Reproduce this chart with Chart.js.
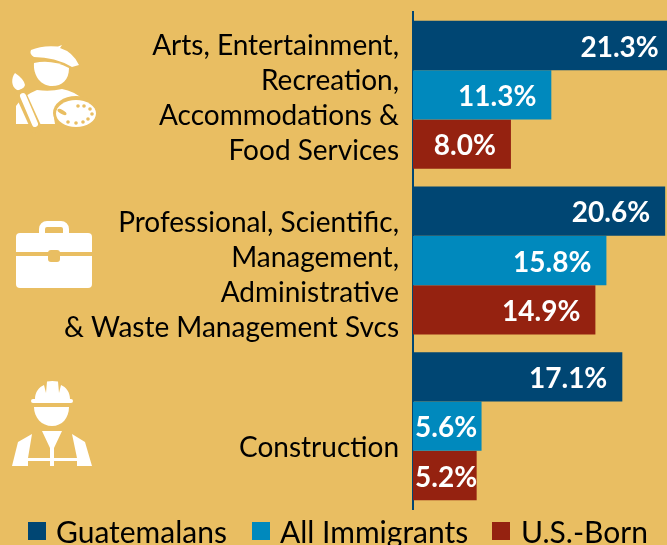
<!DOCTYPE html>
<html><head><meta charset="utf-8">
<style>html,body{margin:0;padding:0;background:#E9BE62;overflow:hidden}canvas{display:block}</style>
<script src="https://cdn.jsdelivr.net/npm/chart.js@4"></script></head>
<body><div style="width:667px;height:545px"><canvas id="c"></canvas></div>
<script>
const categories = [
  ["Arts, Entertainment,", "Recreation,", "Accommodations &", "Food Services"],
  ["Professional, Scientific,", "Management,", "Administrative", "& Waste Management Svcs"],
  ["Construction"]
];
const guatemalans = [21.3, 20.6, 17.1];
const allImmigrants = [11.3, 15.8, 5.6];
const usBorn = [8.0, 14.9, 5.2];
const NAVY = '#004673', BLUE = '#0089BD', RED = '#952210', BG = '#E9BE62';
const labelShift = [4, 15, 22];
const legendBoxX = [28, 252, 492];
const legendTextX = [56, 280, 521];
const FONT = 'Lato, Carlito, sans-serif';

const W = '#fff';
function poly(ctx,pts){ctx.beginPath();pts.forEach((p,i)=>i?ctx.lineTo(p[0],p[1]):ctx.moveTo(p[0],p[1]));ctx.closePath();ctx.fill();}
function paintIcons(ctx){
  ctx.save();
  ctx.fillStyle = W;
  // painter: beret
  ctx.beginPath();
  ctx.moveTo(31,50);ctx.quadraticCurveTo(42,45,58,46.5);ctx.lineTo(62,45);ctx.lineTo(60,48);
  ctx.quadraticCurveTo(73,52,79,65);ctx.lineTo(72,67);ctx.quadraticCurveTo(55,57,34,57);
  ctx.quadraticCurveTo(29,54,31,50);ctx.fill();
  // head
  ctx.beginPath();
  ctx.moveTo(34,63);ctx.quadraticCurveTo(52,59,69,68);ctx.bezierCurveTo(69,80,62,86,52,86);
  ctx.bezierCurveTo(41,86,33,76,34,63);ctx.fill();
  // brush tip
  ctx.beginPath();
  ctx.moveTo(15,73);ctx.bezierCurveTo(11,78,11,87,17,90);ctx.quadraticCurveTo(23,91,25,85);
  ctx.quadraticCurveTo(24,79,15,73);ctx.fill();
  // body
  ctx.beginPath();
  ctx.moveTo(16,124);ctx.lineTo(16,106);ctx.quadraticCurveTo(22,96,37,90);ctx.quadraticCurveTo(50,92,62,89);
  ctx.quadraticCurveTo(74,91,84,100);ctx.lineTo(66,100);ctx.lineTo(54,118);ctx.lineTo(55,124);ctx.closePath();ctx.fill();
  // brush handle over body
  ctx.strokeStyle = BG;ctx.lineWidth = 11;ctx.lineCap='butt';
  ctx.beginPath();ctx.moveTo(19,90);ctx.lineTo(38,132);ctx.stroke();
  ctx.strokeStyle = W;ctx.lineWidth = 6;ctx.lineCap='round';
  ctx.beginPath();ctx.moveTo(23,96);ctx.lineTo(35,124);ctx.stroke();
  // palette
  ctx.fillStyle = BG;ctx.beginPath();ctx.ellipse(76,113,23,17,0,0,Math.PI*2);ctx.fill();
  ctx.fillStyle = W;ctx.beginPath();ctx.ellipse(76,113.5,20,13.5,0,0,Math.PI*2);ctx.fill();
  ctx.fillStyle = BG;
  [[78,106],[84,106],[90,109],[92,114],[88,119],[83,122],[76,123],[68,122]].forEach(p=>{ctx.beginPath();ctx.arc(p[0],p[1],1.8,0,Math.PI*2);ctx.fill();});
  ctx.beginPath();ctx.ellipse(62,112,5,2,0.5,0,Math.PI*2);ctx.fill();
  // briefcase
  ctx.fillStyle = W;
  ctx.beginPath();ctx.roundRect(16,233,76,55,4);ctx.fill();
  ctx.strokeStyle = W;ctx.lineWidth = 6;ctx.lineCap='butt';
  ctx.beginPath();ctx.roundRect(42,224,24,14,5);ctx.stroke();
  ctx.fillStyle = BG;
  ctx.fillRect(16,252,76,4);
  ctx.beginPath();ctx.roundRect(48,250,12,12,3);ctx.fill();
  // worker: helmet
  ctx.fillStyle = W;
  ctx.beginPath();ctx.moveTo(35,399);ctx.bezierCurveTo(35,392,39,387,44,385);ctx.lineTo(46,393);ctx.lineTo(47,381.5);
  ctx.quadraticCurveTo(52,380.5,58,381.5);ctx.lineTo(59,393);ctx.lineTo(61,385);ctx.bezierCurveTo(66,387,70,392,70,399);ctx.closePath();ctx.fill();
  ctx.beginPath();ctx.roundRect(31,399,42,4,2);ctx.fill();
  // face
  ctx.beginPath();ctx.moveTo(34,407);ctx.lineTo(69,407);ctx.bezierCurveTo(69,418,62,426,52,426);ctx.bezierCurveTo(42,426,34,418,34,407);ctx.fill();
  // torso
  poly(ctx,[[12,466],[18,442],[32,434],[28,458],[50,458],[50,461],[28,461],[28,466]]);
  poly(ctx,[[92,466],[85,442],[72,434],[77,458],[54,458],[54,461],[77,461],[77,466]]);
  poly(ctx,[[42,431],[62,431],[54,448],[54,466],[50,466],[50,448]]);
  ctx.restore();
}

const decor = {
  id:'decor',
  beforeDraw(chart){
    const {ctx,width,height} = chart;
    ctx.save();ctx.fillStyle = BG;ctx.fillRect(0,0,width,height);ctx.restore();
    paintIcons(ctx);
  },
  afterDatasetsDraw(chart){
    const {ctx,scales:{y}} = chart;
    ctx.save();
    // category labels
    ctx.fillStyle = '#000';ctx.font = '28px '+FONT;ctx.textAlign='right';ctx.textBaseline='middle';
    categories.forEach((lines,i)=>{
      const cy = y.getPixelForValue(i)+labelShift[i];
      lines.forEach((t,k)=>ctx.fillText(t,399,cy+(k-(lines.length-1)/2)*35));
    });
    // value labels
    ctx.fillStyle = '#fff';ctx.font = 'bold 28px '+FONT;ctx.textBaseline='middle';ctx.textAlign='right';
    chart.data.datasets.forEach((ds,d)=>{
      chart.getDatasetMeta(d).data.forEach((bar,i)=>{
        const t = ds.data[i].toFixed(1)+'%';
        const w = ctx.measureText(t).width;
        const x = Math.max(bar.x-15, chart.chartArea.left+2+w);
        ctx.fillText(t,x,bar.y+2);
      });
    });
    // legend
    ctx.textAlign='left';ctx.font='30px '+FONT;
    chart.data.datasets.forEach((ds,d)=>{
      ctx.fillStyle = ds.backgroundColor;ctx.fillRect(legendBoxX[d],522,18,18);
      ctx.fillStyle = '#000';ctx.fillText(ds.label,legendTextX[d],533);
    });
    ctx.restore();
  }
};

new Chart(document.getElementById('c'),{
  type:'bar',
  data:{labels:categories,datasets:[
    {label:'Guatemalans',data:guatemalans,backgroundColor:NAVY},
    {label:'All Immigrants',data:allImmigrants,backgroundColor:BLUE},
    {label:'U.S.-Born',data:usBorn,backgroundColor:RED}
  ]},
  options:{
    indexAxis:'y',responsive:true,maintainAspectRatio:false,animation:false,
    layout:{padding:{top:12,left:0,right:0,bottom:36}},
    datasets:{bar:{categoryPercentage:0.893,barPercentage:1}},
    scales:{
      x:{display:false,min:0,max:20.75},
      y:{grid:{display:false},border:{display:true,color:NAVY,width:2},ticks:{display:false},
         afterFit(s){s.width=413;}}
    },
    plugins:{tooltip:{enabled:false},legend:{display:false}}
  },
  plugins:[decor]
});
</script></body></html>
